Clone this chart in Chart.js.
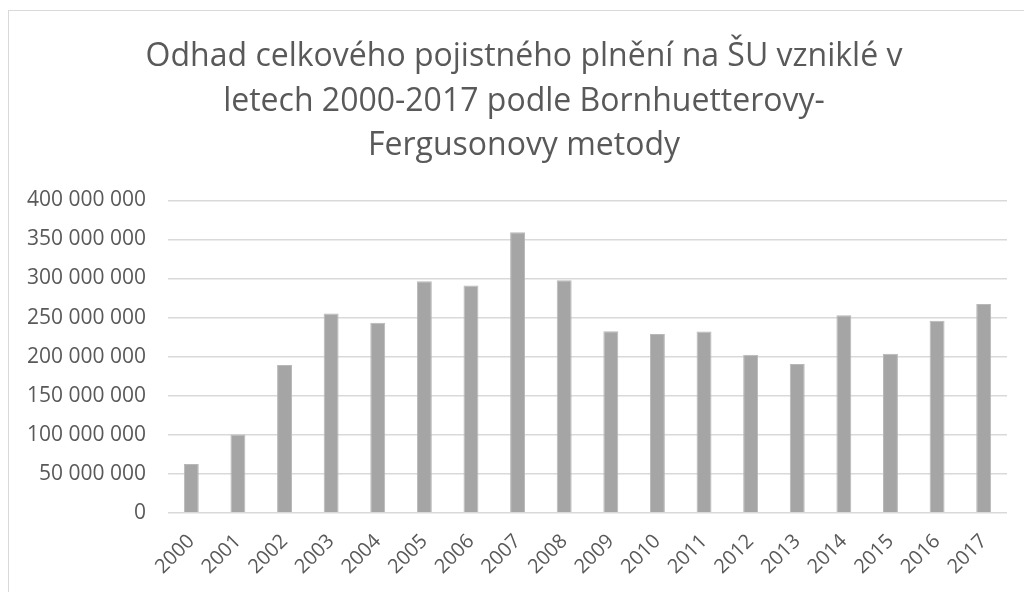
<!DOCTYPE html>
<html>
<head>
<meta charset="utf-8">
<script src="https://cdn.jsdelivr.net/npm/chart.js@4/dist/chart.umd.min.js"></script>
<style>
  html, body { margin: 0; padding: 0; background: #fff; }
  #wrap { position: relative; width: 1024px; height: 592px; overflow: hidden; }
  #frame { position: absolute; left: 8px; top: 10px; width: 1040px; height: 600px; border: 1px solid #d9d9d9; box-sizing: border-box; }
  canvas { position: absolute; left: 0; top: 0; }
</style>
</head>
<body>
<div id="wrap">
  <div id="frame"></div>
  <canvas id="bfChart" width="1048" height="592"></canvas>
</div>
<script>
// data
const titleLines = [
    'Odhad celkového pojistného plnění na ŠU vzniklé v',
    'letech 2000-2017 podle Bornhuetterovy-',
    'Fergusonovy metody'
];
const years = ['2000', '2001', '2002', '2003', '2004', '2005', '2006', '2007', '2008',
               '2009', '2010', '2011', '2012', '2013', '2014', '2015', '2016', '2017'];
const claims = [62300000, 100200000, 189100000, 255200000, 243200000, 296500000, 290900000,
                359200000, 297800000, 232400000, 229000000, 232200000, 202400000, 190400000,
                253000000, 203700000, 245800000, 267200000];

// thousands separated by spaces, as in the original
function formatNumber(v) {
    return String(Math.round(v)).replace(/\B(?=(\d{3})+(?!\d))/g, ' ');
}

const grey = '#595959';

new Chart(document.getElementById('bfChart'), {
    type: 'bar',
    data: {
        labels: years,
        datasets: [{
            data: claims,
            backgroundColor: '#a5a5a5',
            borderColor: '#b8b8b8',
            borderWidth: 1,
            barPercentage: 0.64,
            categoryPercentage: 0.5
        }]
    },
    options: {
        responsive: false,
        animation: false,
        layout: { padding: { left: 10, right: 10, top: 35, bottom: 4 } },
        plugins: {
            legend: { display: false },
            tooltip: { enabled: false },
            title: {
                display: true,
                text: titleLines,
                color: grey,
                font: { family: 'Open Sans', size: 32, weight: 'normal', lineHeight: 1.39 },
                padding: { top: 0, bottom: 32 }
            }
        },
        scales: {
            x: {
                grid: { display: false },
                border: { display: false },
                ticks: {
                    color: grey,
                    font: { family: 'Open Sans', size: 20 },
                    minRotation: 45,
                    maxRotation: 45,
                    padding: 9
                }
            },
            y: {
                min: 0,
                max: 400000000,
                afterFit: (scale) => { scale.width = 158; },
                grid: { color: '#d9d9d9', lineWidth: 1.5, drawTicks: false },
                border: { display: false },
                ticks: {
                    stepSize: 50000000,
                    color: grey,
                    padding: 22,
                    font: { family: 'Open Sans', size: 21 },
                    callback: (value) => formatNumber(value)
                }
            },
            // empty spacer on the right so the plot ends where the original does
            spacer: {
                type: 'linear',
                position: 'right',
                afterFit: (scale) => { scale.width = 31; },
                grid: { display: false },
                border: { display: false },
                ticks: { display: false }
            }
        }
    }
});
</script>
</body>
</html>
